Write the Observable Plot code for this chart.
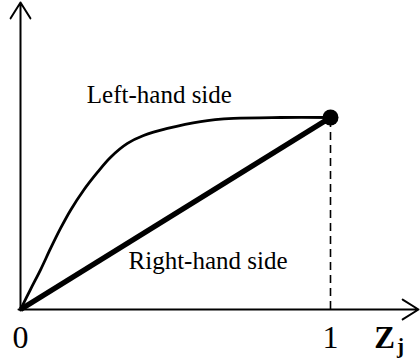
<!DOCTYPE html>
<html>
<head>
<meta charset="utf-8">
<script src="https://cdn.jsdelivr.net/npm/d3@7"></script>
<script src="https://cdn.jsdelivr.net/npm/@observablehq/plot@0.6"></script>
<style>
  html, body { margin: 0; padding: 0; background: #fff; }
  svg { display: block; }
</style>
</head>
<body>
<div id="chart"></div>
<script>
// Left-hand side curve (x = Z_j, y = value, normalized so endpoint is 1)
const lhsX = [0, 0.032, 0.065, 0.097, 0.129, 0.161, 0.203, 0.248, 0.290, 0.345, 0.397, 0.474, 0.581, 0.687, 0.839, 1];
const lhsY = [0, 0.104, 0.208, 0.318, 0.422, 0.516, 0.620, 0.714, 0.792, 0.865, 0.906, 0.943, 0.979, 0.995, 1, 1];
// Right-hand side straight line
const rhsX = [0, 1];
const rhsY = [0, 1];
// Tick values and labels
const tickValues = [0, 1];
const tickLabels = ["0", "1"];
const axisLabelMain = "Z";
const axisLabelSub = "j";
const seriesLabels = ["Left-hand side", "Right-hand side"];

const lhs = lhsX.map((x, i) => ({x, y: lhsY[i]}));
const rhs = rhsX.map((x, i) => ({x, y: rhsY[i]}));
const ticks = tickValues.map((v, i) => ({x: v, label: tickLabels[i]}));
const endPoint = [{x: rhsX[1], y: rhsY[1]}];

const font = "'Liberation Serif', 'Times New Roman', serif";

const chart = Plot.plot({
  width: 420,
  height: 362,
  margin: 0,
  x: {domain: [-20 / 310, 400 / 310], axis: null},
  y: {domain: [-53 / 192, 309 / 192], axis: null},
  style: {fontFamily: font, background: "#fff"},
  marks: [
    // axes with arrowheads
    Plot.arrow([{x1: -2/310, y1: 0, x2: 398 / 310, y2: 0}], {
      x1: "x1", y1: "y1", x2: "x2", y2: "y2",
      stroke: "#000", strokeWidth: 2, headAngle: 64, headLength: 14
    }),
    Plot.arrow([{x1: 0, y1: -1/192, x2: 0, y2: 307 / 192}], {
      x1: "x1", y1: "y1", x2: "x2", y2: "y2",
      stroke: "#000", strokeWidth: 2, headAngle: 64, headLength: 14
    }),
    // dashed drop line at Z_j = 1
    Plot.ruleX(endPoint, {x: "x", y1: 0, y2: "y", stroke: "#000", strokeWidth: 1.6, strokeDasharray: "8,5"}),
    // left-hand side curve
    Plot.line(lhs, {x: "x", y: "y", stroke: "#000", strokeWidth: 2.8, curve: "catmull-rom"}),
    // right-hand side line
    Plot.line(rhs, {x: "x", y: "y", stroke: "#000", strokeWidth: 5.5, strokeLinecap: "butt"}),
    // endpoint dot
    Plot.dot(endPoint, {x: "x", y: "y", r: 8, fill: "#000", stroke: "none"}),
    // tick labels
    Plot.text(ticks, {x: "x", y: 0, text: "label", dy: 38, lineAnchor: "bottom", textAnchor: "middle", fontSize: 32, fill: "#000"}),
    // axis label Z_j
    Plot.text([axisLabelMain], {x: 1, y: 0, text: d => d, dx: 54, dy: 38, lineAnchor: "bottom", textAnchor: "middle", fontSize: 31, fontWeight: "bold", fill: "#000"}),
    Plot.text([axisLabelSub], {x: 1, y: 0, text: d => d, dx: 70, dy: 43, lineAnchor: "bottom", textAnchor: "middle", fontSize: 21, fontWeight: "bold", fill: "#000"}),
    // series labels
    Plot.text([seriesLabels[0]], {x: 0.448, y: 1.115, text: d => d, textAnchor: "middle", lineAnchor: "middle", fontSize: 25, fill: "#000"}),
    Plot.text([seriesLabels[1]], {x: 0.605, y: 0.255, text: d => d, textAnchor: "middle", lineAnchor: "middle", fontSize: 25, fill: "#000"})
  ]
});
document.getElementById("chart").appendChild(chart);
</script>
</body>
</html>
